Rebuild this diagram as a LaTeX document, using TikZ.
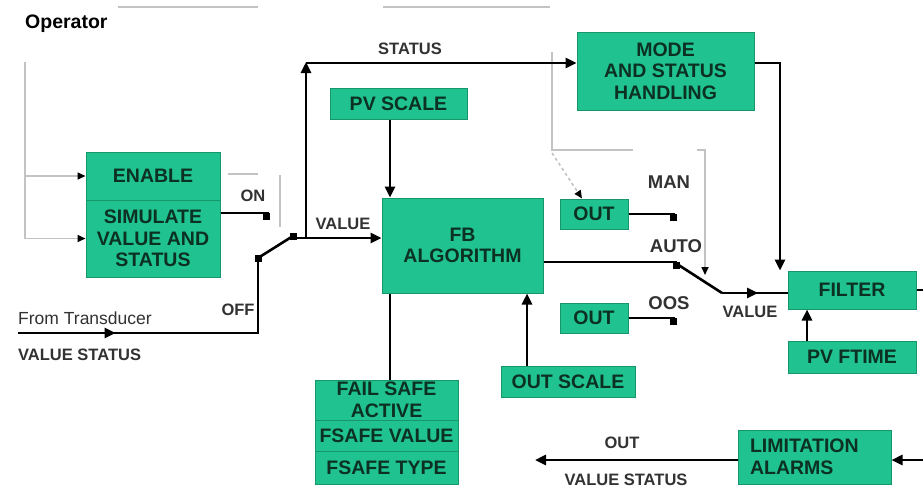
\documentclass[tikz,border=0pt]{standalone}
\usepackage{fontspec}
\setmainfont{Liberation Sans}
\usetikzlibrary{arrows.meta,decorations.markings,calc}
\definecolor{boxgreen}{RGB}{32,194,144}
\definecolor{boxedge}{RGB}{22,150,105}
\definecolor{boxtext}{RGB}{12,48,34}
\definecolor{lbl}{RGB}{50,50,50}
\definecolor{faint}{RGB}{195,195,195}
\begin{document}
\begin{tikzpicture}[x=1pt,y=-1pt,
 box/.style={draw=boxedge,fill=boxgreen,line width=1pt,inner sep=0pt,align=center,text=boxtext,font=\fontsize{19.5}{21.5}\selectfont\bfseries},
 lab/.style={text=lbl,font=\fontsize{16.5}{18}\selectfont\bfseries,inner sep=0pt},
 biglab/.style={text=lbl,font=\fontsize{18.5}{20}\selectfont\bfseries,inner sep=0pt},
 wire/.style={line width=2.6pt,black},
 arr/.style={wire,-{Triangle[length=11pt,width=10pt]}},
 gline/.style={line width=1.6pt,faint},
 garr/.style={gline,-{Triangle[length=8pt,width=7pt,black]}},
 contact/.style={fill=black,inner sep=0pt,minimum size=7pt,draw=none},
 midarrow/.style={postaction={decorate},decoration={markings,mark=at position #1 with {\arrow{Triangle[length=11pt,width=10pt]}}}}
]
\fill[white] (0,0) rectangle (923,491);
\useasboundingbox (0,0) rectangle (923,491);

% boxes
\node[box,minimum width=134pt,minimum height=48pt] (enable) at (153,176) {ENABLE};
\node[box,minimum width=134pt,minimum height=77pt] (simulate) at (153,238.5) {SIMULATE\\VALUE AND\\STATUS};
\node[box,minimum width=137pt,minimum height=31pt] (pvscale) at (398.5,103.5) {PV SCALE};
\node[box,minimum width=177pt,minimum height=78pt] (mode) at (665.5,71) {MODE\\AND STATUS\\HANDLING};
\node[box,minimum width=161pt,minimum height=95pt] (fb) at (462.5,245.5) {FB\\ALGORITHM};
\node[box,minimum width=68pt,minimum height=30pt] (outman) at (594,214) {OUT};
\node[box,minimum width=68pt,minimum height=30pt] (outoos) at (594,318) {OUT};
\node[box,minimum width=128pt,minimum height=38pt] (filter) at (852,290) {FILTER};
\node[box,minimum width=128pt,minimum height=32pt] (pvftime) at (852,357) {PV FTIME};
\node[box,minimum width=143pt,minimum height=40pt] (failsafe) at (386.5,400) {FAIL SAFE\\ACTIVE};
\node[box,minimum width=143pt,minimum height=31pt] (fsvalue) at (386.5,435.5) {FSAFE VALUE};
\node[box,minimum width=143pt,minimum height=33pt] (fstype) at (386.5,467.5) {FSAFE TYPE};
\node[box,minimum width=134pt,minimum height=31pt] (outscale) at (568,381.5) {OUT SCALE};
\node[box,align=left,text width=129pt,inner xsep=12pt,minimum height=54pt] (limit) at (814.5,457) {LIMITATION\\ALARMS};

% faint operator lines
\draw[gline] (118,7) -- (258,7);
\draw[gline] (383,7) -- (550,7);
\coordinate (op) at (25,62);
\draw[garr] (op) -- (25,238.5) -- (simulate.west);
\draw[garr] (25,176) -- (enable.west);
\draw[gline] (228,174) -- (258,174);
\draw[gline] (280,175) -- (280,227);
\draw[gline] (552,52) -- (552,150) -- (633,150);
\draw[garr,dashed] (552,153) -- (outman.north -| 582,0);
\draw[garr] (697,150) -- (705,150) -- (705,275);

% input switch
\coordinate (offc) at (258,258);
\coordinate (swc) at (293,236);
\draw[wire,midarrow=0.31] (18,333) -- (258,333) -- (offc);
\draw[wire] (offc) -- (swc);
\node[contact] (offsq) at (offc) {};
\node[contact] (swsq) at (swc) {};
\draw[wire] (simulate.east |- 0,213) -- (269,213);
\node[contact] (onsq) at (266,216) {};
\draw[arr] (293,238) -- (fb.west |- 0,238);
\draw[arr] (306,238) -- (306,62);
\draw[arr] (306,63) -- (mode.west |- 0,63);

% FB connections
\draw[arr] (pvscale.south -| 390,0) -- (fb.north -| 390,0);
\draw[wire] (fb.south -| 390,0) -- (failsafe.north -| 390,0);
\draw[arr] (outscale.north -| 527,0) -- (fb.south -| 527,0);

% mode switch
\draw[wire] (fb.east |- 0,262) -- (677,262);
\node[contact] (autosq) at (676,265) {};
\draw[wire] (677,264) -- (722,293);
\draw[wire,midarrow=0.55] (722,293) -- (filter.west |- 0,293);
\draw[wire] (outman.east) -- (675,214);
\node[contact] (mansq) at (673,217) {};
\draw[wire] (outoos.east) -- (675,318);
\node[contact] (oossq) at (673,321) {};
\draw[arr] (mode.east |- 0,63) -- (780,63) -- (filter.north -| 780,0);
\draw[arr] (pvftime.north -| 807,0) -- (filter.south -| 807,0);
\draw[wire] (filter.east) -- (923,290);
\draw[arr] (923,460) -- (limit.east |- 0,460);
\draw[arr] (limit.west |- 0,460) -- (535,460);

% labels
\node[biglab,text=black,anchor=west,font=\fontsize{19.5}{21}\selectfont\bfseries] (operator) at (25,24) {Operator};
\node[lab] (lstatus) at (410,49) {STATUS};
\node[lab] (lvalue1) at (343,224) {VALUE};
\node[lab] (lon) at (253,196) {ON};
\node[lab] (loff) at (238,310) {OFF};
\node[lab,anchor=west,font=\fontsize{17.5}{19}\selectfont] (lfrom) at (18,318) {From Transducer};
\node[lab,anchor=west] (lvs1) at (18,355) {VALUE STATUS};
\node[biglab] (lman) at (669,182) {MAN};
\node[biglab] (lauto) at (676,246) {AUTO};
\node[biglab] (loos) at (669,303) {OOS};
\node[lab] (lvalue2) at (750,312) {VALUE};
\node[lab] (lout) at (622,443) {OUT};
\node[lab] (lvs2) at (626,480) {VALUE STATUS};
\end{tikzpicture}
\end{document}
